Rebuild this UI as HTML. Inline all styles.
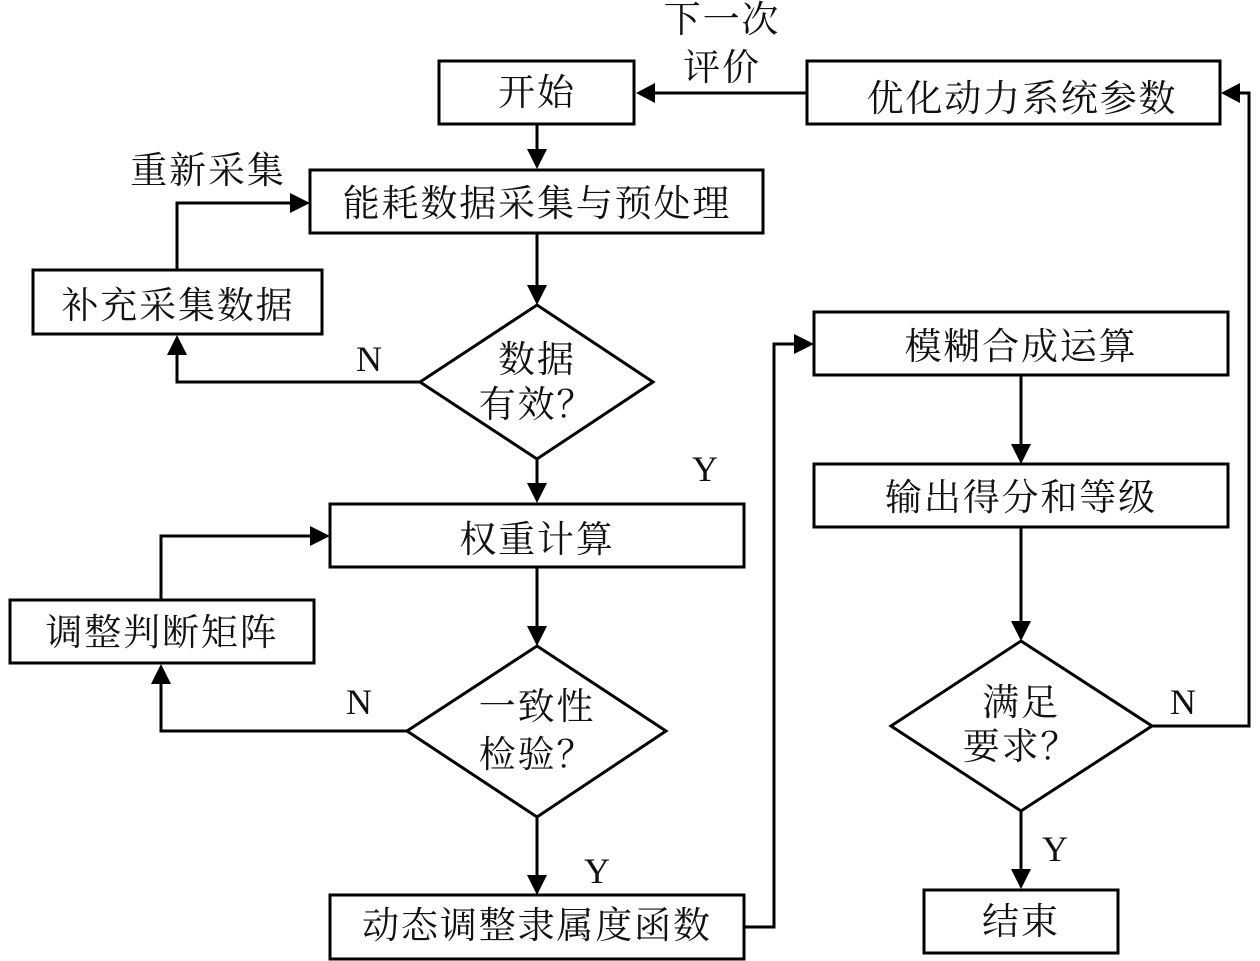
<!DOCTYPE html>
<html lang="zh">
<head>
<meta charset="utf-8">
<style>
html,body{margin:0;padding:0;background:#fff;width:1260px;height:961px;overflow:hidden}
svg{display:block}
text{font-family:"Liberation Serif","Noto Serif CJK SC",serif;font-size:37px;fill:#111;text-anchor:middle;letter-spacing:1.85px}
.l{font-size:36px;letter-spacing:0}
rect,polygon.d{fill:#fff;stroke:#000;stroke-width:3}
path{fill:none;stroke:#000;stroke-width:3}
polygon.a{fill:#000;stroke:none}
</style>
</head>
<body>
<svg width="1260" height="961" viewBox="0 0 1260 961" xmlns="http://www.w3.org/2000/svg">
<path d="M807 93H650"/>
<path d="M537 124V152"/>
<path d="M537 233V287"/>
<path d="M537 459V486"/>
<path d="M537 567V628"/>
<path d="M537 817V877"/>
<path d="M420 382H177V352"/>
<path d="M177 270V203H292"/>
<path d="M407 731H161V681"/>
<path d="M161 600V536H312"/>
<path d="M744 927H774V344H796"/>
<path d="M1021 375V446"/>
<path d="M1021 527V623"/>
<path d="M1021 811V872"/>
<path d="M1152 726H1249V93H1236"/>

<rect x="439" y="61" width="195" height="63"/>
<rect x="807" y="61" width="413" height="63"/>
<rect x="310" y="170" width="453" height="63"/>
<rect x="33" y="270" width="289" height="64"/>
<rect x="330" y="504" width="414" height="63"/>
<rect x="10" y="600" width="304" height="63"/>
<rect x="330" y="895" width="414" height="64"/>
<rect x="814" y="312" width="414" height="63"/>
<rect x="814" y="464" width="414" height="63"/>
<rect x="924" y="890" width="194" height="63"/>
<polygon class="d" points="537,305 653,382 537,459 420,382"/>
<polygon class="d" points="537,646 666,731 537,817 407,731"/>
<polygon class="d" points="1021,641 1152,726 1021,811 891,726"/>

<polygon class="a" points="636,93 655,83 655,103"/>
<polygon class="a" points="537,169 527,149 547,149"/>
<polygon class="a" points="537,305 527,285 547,285"/>
<polygon class="a" points="537,503 527,483 547,483"/>
<polygon class="a" points="537,646 527,626 547,626"/>
<polygon class="a" points="537,895 527,875 547,875"/>
<polygon class="a" points="177,335 167,355 187,355"/>
<polygon class="a" points="310,203 290,193 290,213"/>
<polygon class="a" points="161,664 151,684 171,684"/>
<polygon class="a" points="330,536 310,526 310,546"/>
<polygon class="a" points="814,344 794,334 794,354"/>
<polygon class="a" points="1021,464 1011,444 1031,444"/>
<polygon class="a" points="1021,641 1011,621 1031,621"/>
<polygon class="a" points="1021,889 1011,869 1031,869"/>
<polygon class="a" points="1221,93 1240,83 1240,103"/>

<text x="722" y="32">下一次</text>
<text x="722" y="80">评价</text>
<text x="537" y="105">开始</text>
<text x="1022" y="111">优化动力系统参数</text>
<text x="208" y="183">重新采集</text>
<text x="537" y="216">能耗数据采集与预处理</text>
<text x="178" y="318">补充采集数据</text>
<text x="537" y="372">数据</text>
<text x="537" y="417">有效？</text>
<text class="l" x="369" y="371">N</text>
<text class="l" x="705" y="481">Y</text>
<text x="537" y="552">权重计算</text>
<text x="162" y="645">调整判断矩阵</text>
<text x="537" y="719">一致性</text>
<text x="537" y="767">检验？</text>
<text class="l" x="359" y="714">N</text>
<text class="l" x="597" y="883">Y</text>
<text x="537" y="938">动态调整隶属度函数</text>
<text x="1021" y="359">模糊合成运算</text>
<text x="1021" y="510">输出得分和等级</text>
<text x="1021" y="715">满足</text>
<text x="1021" y="759">要求？</text>
<text class="l" x="1183" y="714">N</text>
<text class="l" x="1055" y="861">Y</text>
<text x="1021" y="934">结束</text>
</svg>
</body>
</html>
